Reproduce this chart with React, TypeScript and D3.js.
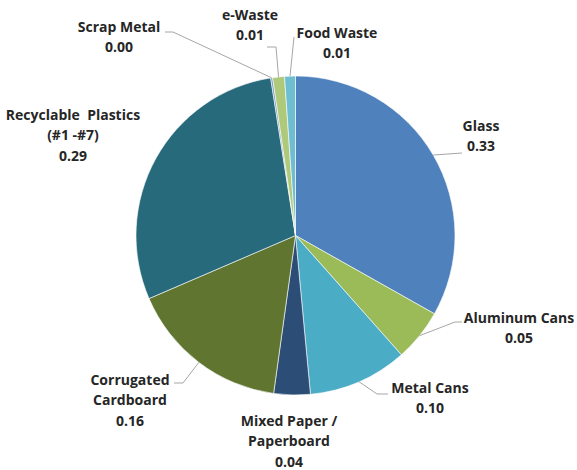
import React from "react";
import * as d3 from "d3";

const categories = [
  "Glass",
  "Aluminum Cans",
  "Metal Cans",
  "Mixed Paper / Paperboard",
  "Corrugated Cardboard",
  "Recyclable Plastics (#1 -#7)",
  "Scrap Metal",
  "e-Waste",
  "Food Waste",
];
const values = [0.333, 0.053, 0.101, 0.037, 0.164, 0.291, 0.002, 0.012, 0.011];
const colors = ["#4F81BD", "#9BBB59", "#4BACC6", "#2C4D75", "#5F7530", "#276A7C", "#729ACA", "#AFC97A", "#6FBDD1"];
const labelLines = [
  ["Glass"],
  ["Aluminum Cans"],
  ["Metal Cans"],
  ["Mixed Paper /", "Paperboard"],
  ["Corrugated", "Cardboard"],
  ["Recyclable\u00a0\u00a0Plastics", "(#1 -#7)"],
  ["Scrap Metal"],
  ["e-Waste"],
  ["Food Waste"],
];

// label placement (layout, not data)
const labelLayout: { x: number; y: number; leader: number[][] | null }[] = [
  { x: 481, y: 131, leader: [[462, 153]] },
  { x: 519, y: 323, leader: [[462, 322], [455, 322]] },
  { x: 430, y: 393, leader: [[388, 394], [377, 394]] },
  { x: 289, y: 426, leader: null },
  { x: 130, y: 385, leader: [[174, 383], [183, 383]] },
  { x: 73, y: 120, leader: null },
  { x: 119, y: 32, leader: [[165, 32], [173, 32]] },
  { x: 250, y: 20, leader: [[267, 47], [276, 47]] },
  { x: 337, y: 38, leader: [[294, 37]] },
];

const W = 577;
const H = 470;
const cx = 295.5;
const cy = 235.5;
const R = 159.5;
const LH = 20.3;

export default function App() {
  const pie = d3.pie<number>().sort(null).value((d) => d);
  const arcs = pie(values);
  const arc = d3.arc<d3.PieArcDatum<number>>().innerRadius(0).outerRadius(R);
  const line = d3.line();

  return (
    <svg
      width={W}
      height={H}
      style={{ position: "absolute", left: 0, top: 0, background: "#fff" }}
      fontFamily="'Open Sans', Lato, sans-serif"
    >
      <g transform={`translate(${cx},${cy})`}>
        {arcs.map((a, i) => (
          <path key={i} d={arc(a) || ""} fill={colors[i]} stroke="#ffffff" strokeWidth={0.6} />
        ))}
      </g>
      {arcs.map((a, i) => {
        const lay = labelLayout[i];
        if (!lay.leader) return null;
        const mid = (a.startAngle + a.endAngle) / 2;
        const end: [number, number] = [cx + R * Math.sin(mid), cy - R * Math.cos(mid)];
        const pts = [...lay.leader.map((p) => [p[0], p[1]] as [number, number]), end];
        return <path key={"l" + i} d={line(pts) || ""} fill="none" stroke="#a6a6a6" strokeWidth={1} />;
      })}
      {arcs.map((a, i) => {
        const lay = labelLayout[i];
        const lines = [...labelLines[i], d3.format(".2f")(values[i])];
        return (
          <text key={"t" + i} textAnchor="middle" fontSize={14} fontWeight={700} fill="#262626">
            {lines.map((s, j) => (
              <tspan key={j} x={lay.x} y={lay.y + j * LH}>
                {s}
              </tspan>
            ))}
          </text>
        );
      })}
    </svg>
  );
}
